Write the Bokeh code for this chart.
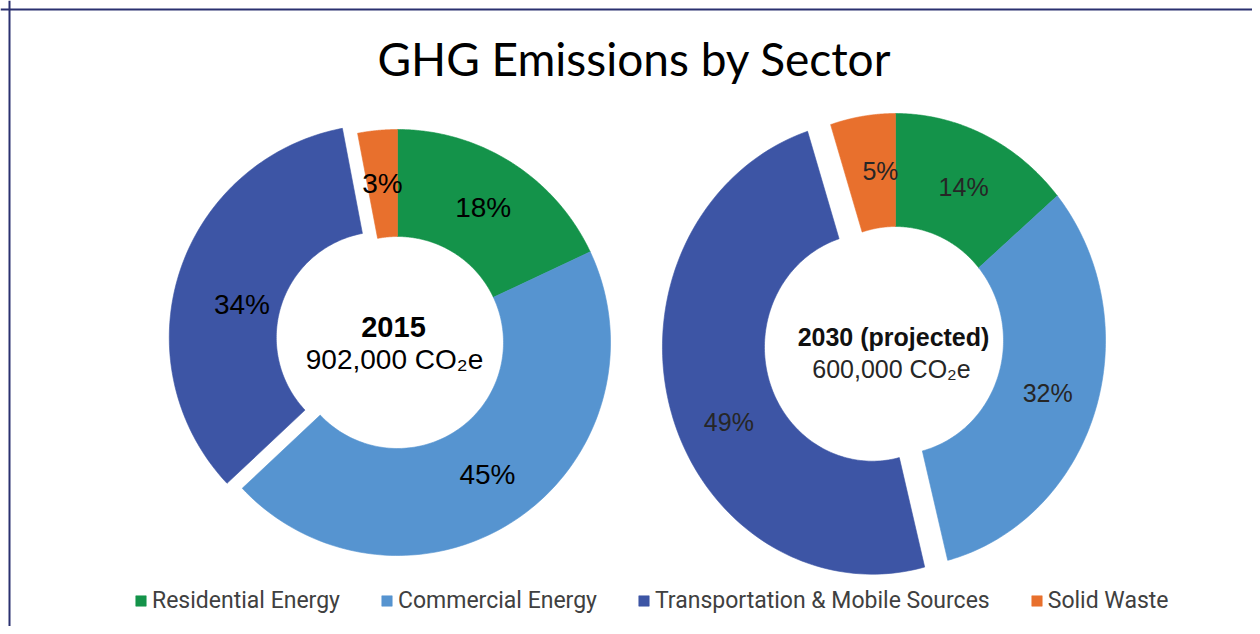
import numpy as np
from bokeh.plotting import figure
from bokeh.models import ColumnDataSource, Range1d, Span, Legend, LegendItem
from bokeh.core.properties import value
from bokeh.embed import file_html
from bokeh.resources import INLINE

# ---------------- data ----------------
title_text = "GHG Emissions by Sector"
categories = ["Residential Energy", "Commercial Energy",
              "Transportation & Mobile Sources", "Solid Waste"]
share_2015 = [18, 45, 34, 3]
share_2030 = [14, 32, 49, 5]
center_year = ["2015", "2030 (projected)"]
center_total = ["902,000 CO\u2082e", "600,000 CO\u2082e"]

# ---------------- style ----------------
colors = ["#14934A", "#5694D0", "#3D55A5", "#E8702D"]
explode_2015 = [0, 0, 16, 0]
explode_2030 = [0, 0, 24, 0]
nudge_2015 = [0, 0, 4.4, 0]
nudge_2030 = [0, 0, 10, -3.6]

W, H = 1252, 626


def sx(x_px):
    return x_px


def sy(y_px):
    return H - y_px


p = figure(width=W, height=H, x_range=Range1d(0, W), y_range=Range1d(0, H),
           output_backend="svg", toolbar_location=None, min_border=0,
           x_axis_location=None, y_axis_location=None)
p.grid.visible = False
p.outline_line_color = None
p.background_fill_color = "white"
p.border_fill_color = "white"

# chart border (top and left visible)
p.add_layout(Span(location=9, dimension="height", line_color="#2B3170", line_width=2))
p.add_layout(Span(location=H - 9, dimension="width", line_color="#2B3170", line_width=2))


def donut(shares, cx, cy, Rx, Ry, rx, ry, explode, lab_rx, lab_ry, lab_shift,
          lab_nudge, font_size, text_color):
    vals = np.array(shares, dtype=float)
    frac = vals / vals.sum()
    cum_end = np.cumsum(frac)
    cum_start = cum_end - frac
    mid = (cum_start + cum_end) / 2
    start = np.pi / 2 - 2 * np.pi * cum_end
    end = np.pi / 2 - 2 * np.pi * cum_start
    th = np.pi / 2 - 2 * np.pi * mid
    ex = np.array(explode, dtype=float)
    ox = cx + ex * np.cos(th)
    oy = cy + ex * np.sin(th)
    xs, ys = [], []
    for a0, a1, x0, y0 in zip(start, end, ox, oy):
        t = np.linspace(a0, a1, 120)
        xs.append(np.concatenate([x0 + Rx * np.cos(t), x0 + rx * np.cos(t[::-1])]))
        ys.append(np.concatenate([y0 + Ry * np.sin(t), y0 + ry * np.sin(t[::-1])]))
    src = ColumnDataSource(dict(xs=xs, ys=ys, color=colors, cat=categories))
    rend = p.patches(xs="xs", ys="ys", fill_color="color", line_color="color",
                     line_width=0.6, source=src)
    lth = th + np.radians(np.array(lab_nudge, dtype=float))
    lsrc = ColumnDataSource(dict(
        x=cx + ex * lab_shift * np.cos(th) + lab_rx * np.cos(lth),
        y=cy + ex * lab_shift * np.sin(th) + lab_ry * np.sin(lth),
        t=["%d%%" % v for v in shares]))
    p.text(x="x", y="y", text="t", source=lsrc, text_align="center",
           text_baseline="middle", text_font=value("Liberation Sans"),
           text_font_size=font_size, text_color=text_color)
    return rend


r1 = donut(share_2015, sx(397), sy(342), 213, 213, 106, 106, explode_2015,
           160, 160, 0.0, nudge_2015, "28px", "#000000")
r2 = donut(share_2030, sx(895), sy(340), 210, 227, 108, 114, explode_2030,
           160, 170, 1.0, nudge_2030, "25px", "#262626")

# center texts
p.text(x=[sx(393)], y=[sy(326)], text=[center_year[0]], text_align="center",
       text_baseline="middle", text_font=value("Liberation Sans"),
       text_font_size="29px", text_font_style="bold", text_color="#000000")
p.text(x=[sx(394)], y=[sy(359)], text=[center_total[0]], text_align="center",
       text_baseline="middle", text_font=value("Liberation Sans"),
       text_font_size="28px", text_color="#000000")
p.text(x=[sx(893)], y=[sy(336)], text=[center_year[1]], text_align="center",
       text_baseline="middle", text_font=value("Liberation Sans"),
       text_font_size="25px", text_font_style="bold", text_color="#111111")
p.text(x=[sx(891)], y=[sy(368)], text=[center_total[1]], text_align="center",
       text_baseline="middle", text_font=value("Liberation Sans"),
       text_font_size="25px", text_color="#262626")

# title
p.text(x=[sx(634)], y=[sy(58)], text=[title_text], text_align="center",
       text_baseline="middle", text_font=value("Lato"),
       text_font_size="46px", text_color="#000000")

legend = Legend(items=[LegendItem(label=c, renderers=[r1], index=i)
                       for i, c in enumerate(categories)],
                orientation="horizontal", location=(sx(134), 12),
                glyph_width=13, glyph_height=13, label_standoff=5,
                spacing=40, padding=0, margin=0,
                border_line_color=None, background_fill_alpha=0,
                label_text_font="Roboto", label_text_font_size="23px",
                label_text_color="#404040")
p.add_layout(legend)

open("out.html", "w").write(file_html(p, INLINE))
